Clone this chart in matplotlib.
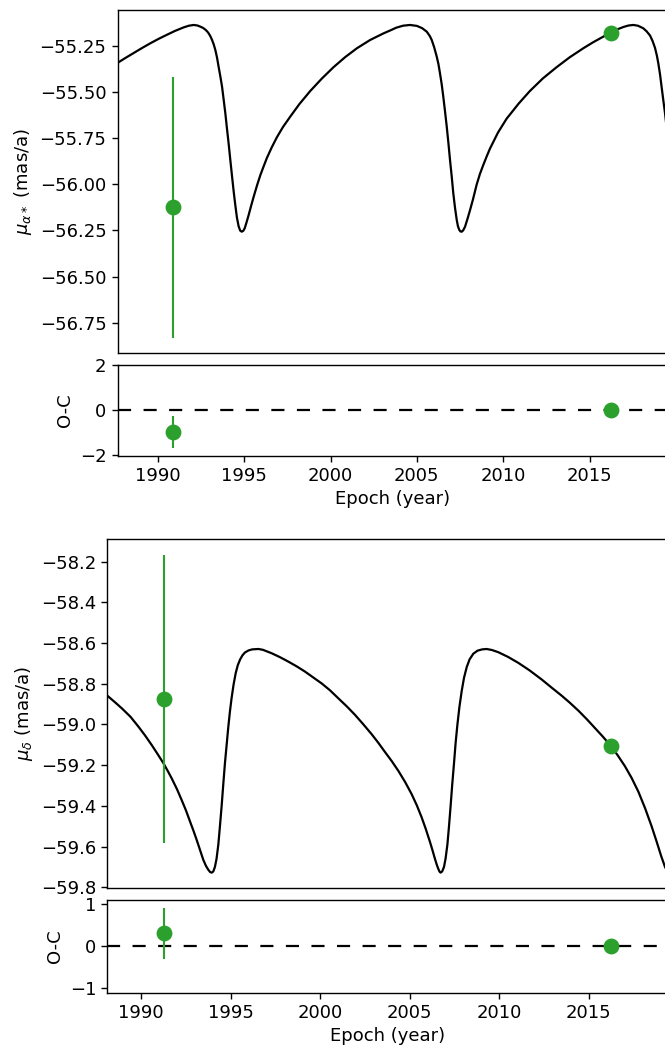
import matplotlib
matplotlib.use("Agg")
import matplotlib.pyplot as plt

# ---------------- data ----------------
# Model curve, proper motion in RA (mu_alpha*), mas/a
ra_model_epoch = [
    1987.64, 1988.10, 1988.60, 1989.10, 1989.57, 1990.05, 1990.53, 1991.00, 1991.50, 1991.80,
    1992.08, 1992.30, 1992.46, 1992.62, 1992.75, 1992.85, 1992.95, 1993.05, 1993.14, 1993.24,
    1993.33, 1993.43, 1993.52, 1993.62, 1993.72, 1993.81, 1993.91, 1994.00, 1994.10, 1994.20,
    1994.30, 1994.40, 1994.49, 1994.58, 1994.68, 1994.77, 1994.86, 1994.95, 1995.03, 1995.12,
    1995.26, 1995.40, 1995.55, 1995.75, 1995.94, 1996.15, 1996.32, 1996.60, 1996.90, 1997.25,
    1997.67, 1998.20, 1998.83, 1999.50, 2000.18, 2000.85, 2001.53, 2002.30, 2003.08, 2003.45,
    2003.80, 2004.20, 2004.60, 2005.00, 2005.30, 2005.57, 2005.75, 2005.86, 2006.00, 2006.15,
    2006.25, 2006.34, 2006.44, 2006.53, 2006.63, 2006.73, 2006.83, 2006.92, 2007.02, 2007.11,
    2007.21, 2007.31, 2007.38, 2007.46, 2007.53, 2007.60, 2007.68, 2007.79, 2007.93, 2008.08,
    2008.25, 2008.46, 2008.65, 2008.85, 2009.05, 2009.23, 2009.70, 2010.20, 2010.90, 2011.55,
    2012.30, 2013.10, 2013.85, 2014.64, 2015.20, 2015.80, 2016.24, 2016.60, 2016.96, 2017.25,
    2017.53, 2017.80, 2018.11, 2018.30, 2018.50, 2018.65, 2018.79, 2018.90, 2018.98, 2019.08,
    2019.17, 2019.27, 2019.37, 2019.47]
ra_model_pm = [
    -55.345, -55.318, -55.290, -55.262, -55.237, -55.213, -55.191, -55.170, -55.151, -55.142,
    -55.138, -55.141, -55.147, -55.154, -55.163, -55.172, -55.184, -55.200, -55.219, -55.244,
    -55.273, -55.315, -55.364, -55.416, -55.472, -55.540, -55.616, -55.695, -55.779, -55.870,
    -55.959, -56.045, -56.115, -56.180, -56.228, -56.251, -56.257, -56.252, -56.239, -56.212,
    -56.167, -56.118, -56.068, -56.005, -55.950, -55.898, -55.857, -55.800, -55.745, -55.690,
    -55.634, -55.566, -55.495, -55.428, -55.366, -55.312, -55.264, -55.219, -55.183, -55.168,
    -55.153, -55.142, -55.138, -55.143, -55.155, -55.174, -55.198, -55.219, -55.258, -55.309,
    -55.350, -55.400, -55.460, -55.526, -55.605, -55.688, -55.780, -55.869, -55.960, -56.049,
    -56.128, -56.194, -56.228, -56.248, -56.256, -56.257, -56.250, -56.230, -56.188, -56.140,
    -56.082, -56.003, -55.945, -55.895, -55.848, -55.808, -55.720, -55.645, -55.563, -55.495,
    -55.427, -55.366, -55.313, -55.264, -55.232, -55.201, -55.180, -55.162, -55.149, -55.141,
    -55.138, -55.142, -55.156, -55.172, -55.195, -55.225, -55.262, -55.305, -55.345, -55.405,
    -55.472, -55.545, -55.616, -55.700]

# Model curve, proper motion in Dec (mu_delta), mas/a
dec_model_epoch = [
    1988.10, 1988.50, 1988.91, 1989.40, 1989.84, 1990.20, 1990.58, 1990.90, 1991.24, 1991.50,
    1991.70, 1992.00, 1992.26, 1992.50, 1992.73, 1992.92, 1993.10, 1993.30, 1993.47, 1993.62,
    1993.75, 1993.85, 1993.94, 1994.03, 1994.12, 1994.21, 1994.31, 1994.40, 1994.50, 1994.59,
    1994.68, 1994.78, 1994.87, 1994.96, 1995.05, 1995.16, 1995.28, 1995.40, 1995.53, 1995.66,
    1995.80, 1996.00, 1996.20, 1996.55, 1996.80, 1997.29, 1997.75, 1998.22, 1998.70, 1999.15,
    1999.60, 2000.08, 2000.55, 2001.01, 2001.50, 2001.95, 2002.40, 2002.88, 2003.25, 2003.62,
    2004.00, 2004.37, 2004.75, 2005.11, 2005.40, 2005.67, 2005.90, 2006.14, 2006.30, 2006.42,
    2006.52, 2006.60, 2006.67, 2006.73, 2006.82, 2006.92, 2007.01, 2007.11, 2007.20, 2007.29,
    2007.38, 2007.48, 2007.57, 2007.67, 2007.78, 2007.91, 2008.04, 2008.19, 2008.35, 2008.56,
    2008.80, 2009.05, 2009.30, 2009.60, 2009.96, 2010.50, 2011.07, 2011.70, 2012.38, 2012.95,
    2013.49, 2013.95, 2014.43, 2014.90, 2015.36, 2015.80, 2016.23, 2016.63, 2017.03, 2017.40,
    2017.78, 2018.15, 2018.52, 2018.80, 2019.05, 2019.27, 2019.40]
dec_model_pm = [
    -58.858, -58.888, -58.920, -58.962, -59.010, -59.052, -59.100, -59.143, -59.190, -59.231,
    -59.264, -59.318, -59.371, -59.422, -59.477, -59.522, -59.567, -59.620, -59.665, -59.695,
    -59.714, -59.725, -59.728, -59.722, -59.700, -59.660, -59.590, -59.500, -59.395, -59.290,
    -59.190, -59.095, -59.010, -58.935, -58.871, -58.805, -58.748, -58.708, -58.680, -58.660,
    -58.646, -58.636, -58.631, -58.629, -58.633, -58.650, -58.669, -58.691, -58.715, -58.740,
    -58.768, -58.798, -58.832, -58.871, -58.912, -58.953, -58.998, -59.048, -59.090, -59.135,
    -59.180, -59.228, -59.283, -59.342, -59.397, -59.456, -59.513, -59.578, -59.625, -59.662,
    -59.690, -59.709, -59.723, -59.728, -59.722, -59.700, -59.658, -59.590, -59.500, -59.400,
    -59.295, -59.190, -59.090, -59.000, -58.915, -58.835, -58.770, -58.718, -58.680, -58.652,
    -58.637, -58.631, -58.629, -58.634, -58.645, -58.668, -58.697, -58.734, -58.779, -58.820,
    -58.858, -58.893, -58.932, -58.974, -59.018, -59.060, -59.104, -59.152, -59.205, -59.262,
    -59.330, -59.410, -59.500, -59.575, -59.645, -59.700, -59.722]

# Observations (Hipparcos, Gaia)
ra_obs_epoch = [1990.86, 2016.24]
ra_obs_pm = [-56.125, -55.179]
ra_obs_err = [0.706, 0.01]
ra_oc = [-0.98, 0.0]
ra_oc_err = [0.71, 0.01]

dec_obs_epoch = [1991.26, 2016.23]
dec_obs_pm = [-58.876, -59.104]
dec_obs_err = [0.707, 0.01]
dec_oc = [0.31, 0.0]
dec_oc_err = [0.61, 0.01]

xtick_years = [1990, 1995, 2000, 2005, 2010, 2015]

# ---------------- styling ----------------
FS = 13
plt.rcParams.update({
    "font.family": ["DejaVu Sans"],
    "font.size": FS,
    "axes.labelsize": FS,
    "xtick.labelsize": FS,
    "ytick.labelsize": FS,
    "axes.linewidth": 1.0,
    "xtick.major.width": 1.0,
    "ytick.major.width": 1.0,
    "xtick.major.size": 4.5,
    "ytick.major.size": 4.5,
    "mathtext.fontset": "dejavusans",
})

GREEN = "#2ca02c"
W, H = 665, 1052
fig = plt.figure(figsize=(W / 100, H / 100), dpi=100)


def box(left_px, top_px, bottom_px, right_px=667):
    return [left_px / W, 1 - bottom_px / H, (right_px - left_px) / W, (bottom_px - top_px) / H]


ax1 = fig.add_axes(box(117.5, 10, 352.7))
ax1r = fig.add_axes(box(117.5, 365, 455.7))
ax2 = fig.add_axes(box(107.3, 539.3, 888.3))
ax2r = fig.add_axes(box(107.3, 900, 992.7))

xl_top = (1987.666, 1987.666 + (667 - 117.5) / 17.27)
xl_bot = (1988.106, 1988.106 + (667 - 107.3) / 17.896)

dash = (0, (5.9, 5.6))

for ax, axr, me, mp, oe, op, oerr, oc, ocerr, xl, yl, ocl, lab in [
    (ax1, ax1r, ra_model_epoch, ra_model_pm, ra_obs_epoch, ra_obs_pm, ra_obs_err,
     ra_oc, ra_oc_err, xl_top, (-56.912, -55.057), (-2.02, 2.02),
     r"$\mu_{\alpha*}$ (mas/a)"),
    (ax2, ax2r, dec_model_epoch, dec_model_pm, dec_obs_epoch, dec_obs_pm, dec_obs_err,
     dec_oc, dec_oc_err, xl_bot, (-59.805, -58.09), (-1.1, 1.1),
     r"$\mu_{\delta}$ (mas/a)"),
]:
    ax.plot(me, mp, color="black", lw=1.6, zorder=2, solid_joinstyle="round")
    ax.errorbar(oe, op, yerr=oerr, fmt="o", color=GREEN, ms=10.4, elinewidth=1.5,
                capsize=0, zorder=3)
    ax.set_xlim(*xl)
    ax.set_ylim(*yl)
    ax.tick_params(axis="x", bottom=False, labelbottom=False)
    ax.set_ylabel(lab)
    ax.spines["right"].set_visible(False)

    axr.axhline(0, color="black", lw=1.6, linestyle=dash, zorder=1)
    axr.errorbar(oe, oc, yerr=ocerr, fmt="o", color=GREEN, ms=10.4, elinewidth=1.5,
                 capsize=0, zorder=3)
    axr.set_xlim(*xl)
    axr.set_ylim(*ocl)
    axr.set_xticks(xtick_years)
    axr.set_ylabel("O-C")
    axr.set_xlabel("Epoch (year)")
    axr.spines["right"].set_visible(False)

ax1.set_yticks([-55.25, -55.5, -55.75, -56.0, -56.25, -56.5, -56.75])
ax1r.set_yticks([-2, 0, 2])
ax2.set_yticks([-58.2, -58.4, -58.6, -58.8, -59.0, -59.2, -59.4, -59.6, -59.8])
ax2r.set_yticks([-1, 0, 1])

fig.savefig("out.png", dpi=100)
